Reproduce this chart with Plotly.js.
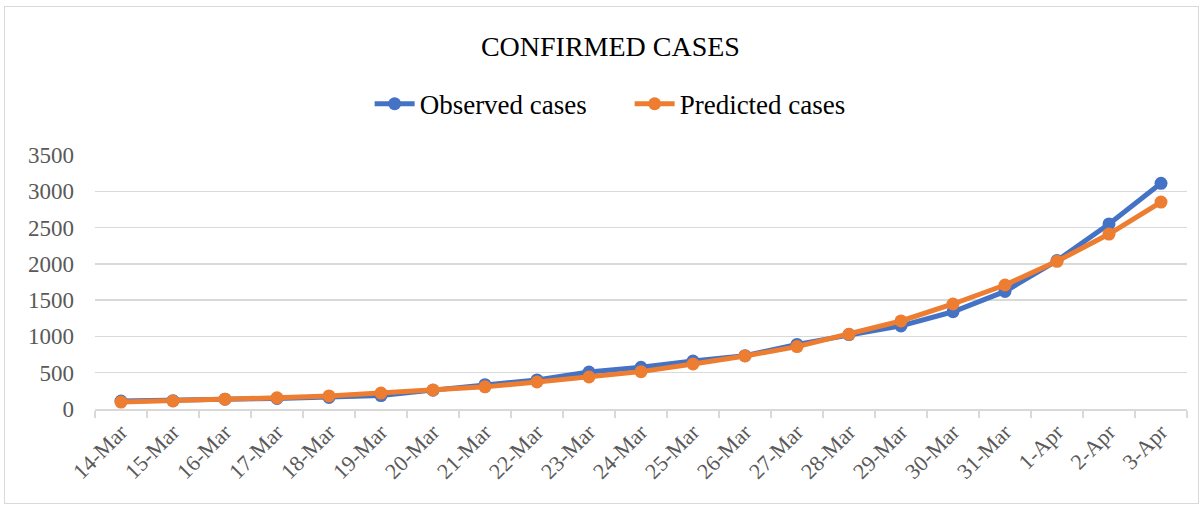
<!DOCTYPE html>
<html>
<head>
<meta charset="utf-8">
<script src="https://cdn.plot.ly/plotly-3.0.1.min.js"></script>
<style>
  html, body { margin: 0; padding: 0; background: #ffffff; }
  #wrap { position: relative; width: 1204px; height: 507px; }
  #chart { width: 1204px; height: 507px; }
  #frame { position: absolute; left: 4px; top: 6px; width: 1195px; height: 498px;
           border: 1px solid #d9d9d9; pointer-events: none; box-sizing: border-box; }
</style>
</head>
<body>
<div id="wrap">
  <div id="chart"></div>
  <div id="frame"></div>
</div>
<script>
const dates = ["14-Mar","15-Mar","16-Mar","17-Mar","18-Mar","19-Mar","20-Mar","21-Mar","22-Mar","23-Mar",
               "24-Mar","25-Mar","26-Mar","27-Mar","28-Mar","29-Mar","30-Mar","31-Mar","1-Apr","2-Apr","3-Apr"];
const observedCases = [110, 115, 135, 145, 160, 185, 260, 335, 400, 510, 575, 660, 735, 890, 1025, 1145, 1340, 1620, 2045, 2550, 3110];
const predictedCases = [95, 110, 135, 155, 180, 220, 262, 305, 372, 441, 515, 620, 730, 860, 1030, 1213, 1447, 1709, 2035, 2411, 2852];
const yTicks = [0, 500, 1000, 1500, 2000, 2500, 3000, 3500];

const serif = "'Liberation Serif', 'Times New Roman', serif";

const traces = [
  {
    x: dates, y: observedCases, name: "Observed cases", type: "scatter", mode: "lines+markers",
    line: { color: "#4472C4", width: 5 },
    marker: { color: "#4472C4", size: 13 }
  },
  {
    x: dates, y: predictedCases, name: "Predicted cases", type: "scatter", mode: "lines+markers",
    line: { color: "#ED7D31", width: 5 },
    marker: { color: "#ED7D31", size: 13 }
  }
];

const layout = {
  width: 1204, height: 507,
  paper_bgcolor: "#ffffff", plot_bgcolor: "#ffffff",
  margin: { l: 95, r: 17, t: 155, b: 98 },
  title: {
    text: "CONFIRMED CASES",
    font: { family: serif, size: 28, color: "#000000" },
    x: 0.507, xanchor: "center", xref: "container",
    y: 0.909, yanchor: "middle", yref: "container"
  },
  showlegend: true,
  legend: {
    orientation: "h", x: 0.2515, xanchor: "left", y: 1.2, yanchor: "middle",
    font: { family: serif, size: 27, color: "#000000" },
    itemwidth: 40, entrywidth: 205, entrywidthmode: "pixels",
    tracegroupgap: 0, bgcolor: "rgba(0,0,0,0)"
  },
  xaxis: {
    type: "category", range: [-0.5, dates.length - 0.5],
    showgrid: false, zeroline: false,
    showline: true, linecolor: "#d9d9d9", linewidth: 1.5,
    ticks: "outside", tickson: "boundaries", ticklen: 7, tickcolor: "#d9d9d9", tickwidth: 1.5,
    tickangle: -45,
    tickfont: { family: serif, size: 22, color: "#595959" },
    fixedrange: true
  },
  yaxis: {
    range: [0, 3500], tickvals: yTicks, ticktext: yTicks.map(String),
    showgrid: true, gridcolor: "#d9d9d9", gridwidth: 1.5,
    zeroline: false, showline: false, ticks: "",
    ticklabelstandoff: 20,
    tickfont: { family: serif, size: 23, color: "#595959" },
    fixedrange: true
  }
};

Plotly.newPlot("chart", traces, layout, { displayModeBar: false, staticPlot: true });
</script>
</body>
</html>
